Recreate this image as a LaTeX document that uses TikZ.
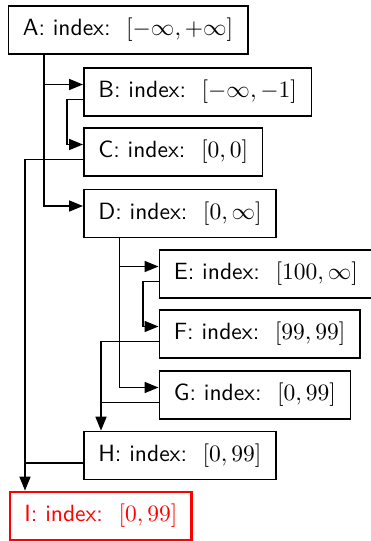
\documentclass[tikz,border=0pt]{standalone}
\usetikzlibrary{arrows.meta}
\newcommand{\ix}[2]{\scalebox{2.35}{\sffamily #1: index:\hspace{0.22em} $#2$}}
\begin{document}
\begin{tikzpicture}[x=1pt,y=-1pt,
  box/.style={draw,line width=1.7pt,anchor=west,minimum height=48pt,inner xsep=14.5pt},
  redbox/.style={box,draw=red,text=red,line width=2.8pt},
  conn/.style={line width=1.7pt},
  arr/.style={conn,-{Triangle[length=14pt,width=11pt]}}]
\useasboundingbox (0,0) rectangle (370,541);
\node[box] (A) at (7.5,30) {\ix{A}{[-\infty,+\infty]}};
\node[box] (B) at (83,92) {\ix{B}{[-\infty,-1]}};
\node[box] (C) at (83,152) {\ix{C}{[0,0]}};
\node[box] (D) at (83,213.5) {\ix{D}{[0,\infty]}};
\node[box] (E) at (158.5,274) {\ix{E}{[100,\infty]}};
\node[box] (F) at (158.5,334) {\ix{F}{[99,99]}};
\node[box] (G) at (158.5,395) {\ix{G}{[0,99]}};
\node[box] (H) at (83,455.5) {\ix{H}{[0,99]}};
\node[redbox] (I) at (8.5,516) {\ix{I}{[0,99]}};
% trunk positions
\coordinate (tA) at (44,0);
\coordinate (tB) at (67,0);
\coordinate (tI) at (25,0);
\coordinate (tD) at (119.5,0);
\coordinate (tE) at (143,0);
\coordinate (tF) at (101,0);
% in / out points
\foreach \n in {B,C,D,E,F,G}{
  \coordinate (\n in) at ([yshift=7.5pt]\n.west);}
\foreach \n in {B,C,F,G,H,E}{
  \coordinate (\n out) at ([yshift=-7.5pt]\n.west);}
% A children
\draw[arr] (A.south -| tA) |- (Din);
\draw[arr] (Bin -| tA) -- (Bin);
% B -> C
\draw[arr] (Bout) -- (Bout -| tB) |- (Cin);
% C -> I
\draw[arr] (Cout) -- (Cout -| tI) -- (tI |- I.north);
% H joins
\draw[conn] (Hout) -- (Hout -| tI);
% D children
\draw[arr] (D.south -| tD) |- (Gin);
\draw[arr] (Ein -| tD) -- (Ein);
% E -> F
\draw[arr] (Eout) -- (Eout -| tE) |- (Fin);
% F -> H
\draw[arr] (Fout) -- (Fout -| tF) -- (tF |- H.north);
% G joins
\draw[conn] (Gout) -- (Gout -| tF);
\end{tikzpicture}
\end{document}
